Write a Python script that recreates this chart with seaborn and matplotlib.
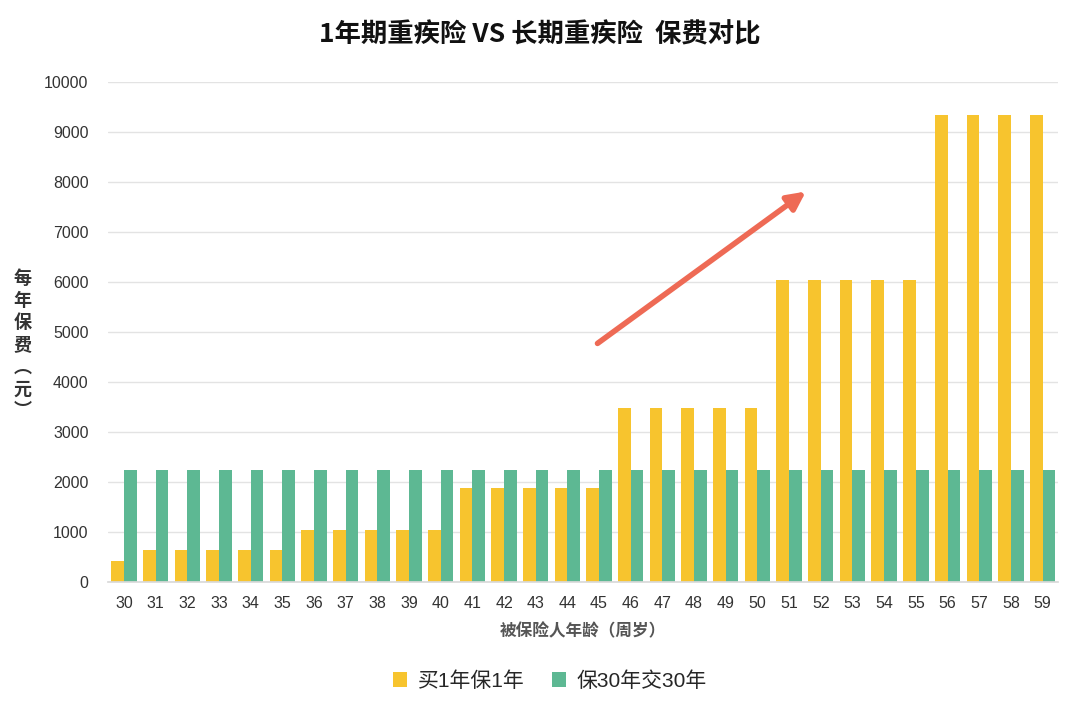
import matplotlib
matplotlib.use("Agg")
import matplotlib.pyplot as plt
import seaborn as sns
import pandas as pd

ages = list(range(30, 60))
one_year = [430, 650, 650, 650, 650, 650, 1040, 1040, 1040, 1040, 1040,
            1880, 1880, 1880, 1880, 1880, 3480, 3480, 3480, 3480, 3480,
            6040, 6040, 6040, 6040, 6040, 9340, 9340, 9340, 9340]
thirty_year = [2240] * 30
series_names = ["买1年保1年", "保30年交30年"]
colors = ["#F7C42E", "#5DB893"]

df = pd.DataFrame({
    "age": [str(a) for a in ages] * 2,
    "premium": one_year + thirty_year,
    "plan": [series_names[0]] * 30 + [series_names[1]] * 30,
})

sns.set_theme(style="white")
plt.rcParams['font.family'] = ['Liberation Sans', 'Noto Sans CJK SC', 'DejaVu Sans']

fig = plt.figure(figsize=(10.8, 7.11), dpi=100)
ax = fig.add_axes([0.1, 0.181, 0.88, 0.704])
sns.barplot(data=df, x="age", y="premium", hue="plan", palette=colors,
            ax=ax, width=0.8, saturation=1, dodge=True, legend=True, linewidth=0)

ax.set_ylim(0, 10000)
ax.set_xlim(-0.5, 29.5)
ax.set_yticks(range(0, 10001, 1000))
ax.yaxis.grid(True, color="#E3E3E3", linewidth=1)
ax.set_axisbelow(True)
for s in ["top", "right", "left"]:
    ax.spines[s].set_visible(False)
ax.spines["bottom"].set_color("#D9D9D9")
ax.tick_params(axis="both", labelsize=11.5, colors="#333333", length=0)
ax.tick_params(axis="x", pad=10)
ax.tick_params(axis="y", pad=14)
ax.set_xlabel("被保险人年龄（周岁）", fontsize=12, color="#555555", labelpad=8,
              fontweight="bold", family=['Noto Sans CJK SC'])
ax.set_ylabel("")

fig.text(0.021, 0.515, "\n".join("每年保费︵元︶"), fontsize=13, fontweight="bold",
         color="#333333", ha="center", va="center", linespacing=1.2,
         family=['Noto Sans CJK SC'])

fig.suptitle("1年期重疾险 VS 长期重疾险  保费对比", y=0.97, fontsize=19, fontweight="heavy",
             color="#111111", family=['Noto Sans CJK SC'])

ax.annotate("", xy=(21.6, 7840), xytext=(14.88, 4740),
            arrowprops=dict(arrowstyle="-|>,head_length=0.9,head_width=0.45", color="#EE6A55", lw=4))

handles, labels = ax.get_legend_handles_labels()
ax.legend(handles, labels, loc="upper center", bbox_to_anchor=(0.465, -0.14), ncol=2,
          frameon=False, fontsize=15, handlelength=0.7, handleheight=0.7,
          columnspacing=1.3, handletextpad=0.5)

fig.savefig("out.png", dpi=100, facecolor="white")
